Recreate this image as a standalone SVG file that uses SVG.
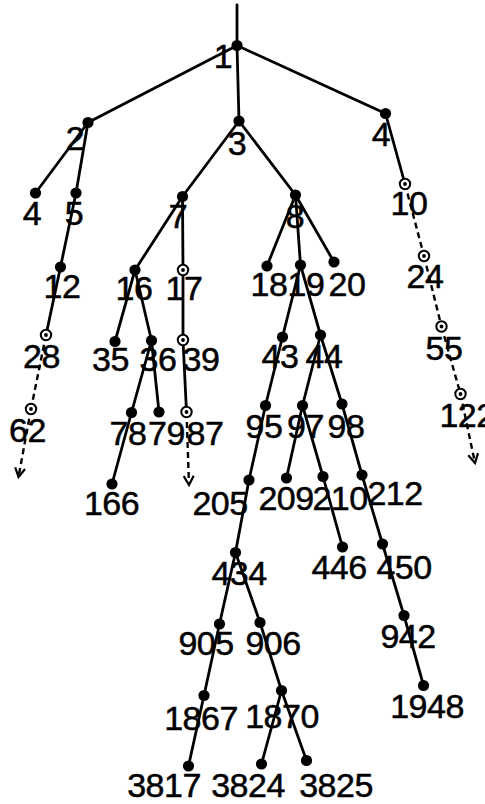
<svg xmlns="http://www.w3.org/2000/svg" width="485" height="804" viewBox="0 0 485 804">
  <style>
    .edge { stroke: #000; stroke-width: 2.8; fill: none; stroke-linecap: round; }
    .dash { stroke: #000; stroke-width: 2.4; fill: none; stroke-dasharray: 6 4; }
    .dot { fill: #000; }
    .ring { fill: #fff; stroke: #000; stroke-width: 2; }
    .core { fill: #000; }
    text { font-family: "Liberation Sans", Arial, Helvetica, sans-serif; font-size: 34px; fill: #000; stroke: #000; stroke-width: 0.5; text-anchor: middle; letter-spacing: -0.5px; }
  </style>
  <defs>
    <marker id="vhead" viewBox="-11 -7 13 14" markerWidth="13" markerHeight="14" refX="0" refY="0" orient="auto" markerUnits="userSpaceOnUse">
      <path d="M -9 -5 L 0 0 L -9 5" fill="none" stroke="#000" stroke-width="2.2"/>
    </marker>
    <circle id="dotShape" r="5.6" class="dot"/>
    <g id="ringShape">
      <circle r="5.2" class="ring"/>
      <circle r="1.9" class="core"/>
    </g>
  </defs>

  <!-- tree edges -->
  <g id="connectors">
    <line class="edge" x1="237" y1="5" x2="237" y2="45.5"/>
    <line class="edge" x1="237" y1="45.5" x2="88" y2="122.5"/>
    <line class="edge" x1="237" y1="45.5" x2="239" y2="121"/>
    <line class="edge" x1="237" y1="45.5" x2="385.5" y2="113.5"/>
    <line class="edge" x1="88" y1="122.5" x2="35.5" y2="193"/>
    <line class="edge" x1="88" y1="122.5" x2="76" y2="193"/>
    <line class="edge" x1="76" y1="193" x2="60.5" y2="267"/>
    <line class="edge" x1="60.5" y1="267" x2="46" y2="335"/>
    <line class="dash" x1="46" y1="335" x2="31" y2="409"/>
    <line class="dash" x1="31" y1="409" x2="18.5" y2="477" marker-end="url(#vhead)"/>
    <line class="edge" x1="239" y1="121" x2="182.5" y2="196.5"/>
    <line class="edge" x1="239" y1="121" x2="295.5" y2="195"/>
    <line class="edge" x1="182.5" y1="196.5" x2="135" y2="270"/>
    <line class="edge" x1="182.5" y1="196.5" x2="183" y2="270"/>
    <line class="edge" x1="135" y1="270" x2="115" y2="341.5"/>
    <line class="edge" x1="135" y1="270" x2="151.5" y2="340.5"/>
    <line class="edge" x1="183" y1="270" x2="183" y2="340"/>
    <line class="edge" x1="183" y1="340" x2="186.5" y2="412"/>
    <line class="dash" x1="186.5" y1="412" x2="189" y2="485" marker-end="url(#vhead)"/>
    <line class="edge" x1="151.5" y1="340.5" x2="131.5" y2="412.5"/>
    <line class="edge" x1="151.5" y1="340.5" x2="159" y2="412"/>
    <line class="edge" x1="131.5" y1="412.5" x2="112" y2="484"/>
    <line class="edge" x1="295.5" y1="195" x2="267" y2="266"/>
    <line class="edge" x1="295.5" y1="195" x2="300.5" y2="265"/>
    <line class="edge" x1="295.5" y1="195" x2="334" y2="262"/>
    <line class="edge" x1="300.5" y1="265" x2="282.5" y2="337"/>
    <line class="edge" x1="300.5" y1="265" x2="320.5" y2="335"/>
    <line class="edge" x1="282.5" y1="337" x2="265.5" y2="405.5"/>
    <line class="edge" x1="320.5" y1="335" x2="302.5" y2="405.5"/>
    <line class="edge" x1="320.5" y1="335" x2="342" y2="404"/>
    <line class="edge" x1="265.5" y1="405.5" x2="249" y2="480"/>
    <line class="edge" x1="249" y1="480" x2="235.5" y2="552.5"/>
    <line class="edge" x1="302.5" y1="405.5" x2="286.5" y2="478"/>
    <line class="edge" x1="302.5" y1="405.5" x2="323" y2="476.5"/>
    <line class="edge" x1="323" y1="476.5" x2="342.5" y2="547"/>
    <line class="edge" x1="342" y1="404" x2="362" y2="475"/>
    <line class="edge" x1="362" y1="475" x2="382.5" y2="544"/>
    <line class="edge" x1="382.5" y1="544" x2="404" y2="615.5"/>
    <line class="edge" x1="404" y1="615.5" x2="423.5" y2="685.5"/>
    <line class="edge" x1="235.5" y1="552.5" x2="219.5" y2="624"/>
    <line class="edge" x1="235.5" y1="552.5" x2="260" y2="622.5"/>
    <line class="edge" x1="219.5" y1="624" x2="204" y2="695.5"/>
    <line class="edge" x1="204" y1="695.5" x2="188.5" y2="766"/>
    <line class="edge" x1="260" y1="622.5" x2="281.5" y2="690.5"/>
    <line class="edge" x1="281.5" y1="690.5" x2="261.5" y2="764"/>
    <line class="edge" x1="281.5" y1="690.5" x2="306.5" y2="760.5"/>
    <line class="edge" x1="385.5" y1="113.5" x2="405" y2="184"/>
    <line class="dash" x1="405" y1="184" x2="424" y2="256"/>
    <line class="dash" x1="424" y1="256" x2="441.5" y2="326.5"/>
    <line class="dash" x1="441.5" y1="326.5" x2="460.5" y2="394"/>
    <line class="dash" x1="460.5" y1="394" x2="475" y2="463" marker-end="url(#vhead)"/>
  </g>

  <!-- nodes -->
  <g id="n1"><use href="#dotShape" x="237" y="45.5"/><text x="223" y="68">1</text></g>
  <g id="n2"><use href="#dotShape" x="88" y="122.5"/><text x="75" y="150">2</text></g>
  <g id="n3"><use href="#dotShape" x="239" y="121"/><text x="237" y="155">3</text></g>
  <g id="n4"><use href="#dotShape" x="385.5" y="113.5"/><text x="381" y="146">4</text></g>
  <g id="n4b"><use href="#dotShape" x="35.5" y="193"/><text x="32" y="225">4</text></g>
  <g id="n5"><use href="#dotShape" x="76" y="193"/><text x="74" y="225">5</text></g>
  <g id="n7"><use href="#dotShape" x="182.5" y="196.5"/><text x="178" y="228">7</text></g>
  <g id="n8"><use href="#dotShape" x="295.5" y="195"/><text x="295" y="228">8</text></g>
  <g id="n10"><use href="#ringShape" x="405" y="184"/><text x="409" y="215">10</text></g>
  <g id="n12"><use href="#dotShape" x="60.5" y="267"/><text x="62" y="298">12</text></g>
  <g id="n16"><use href="#dotShape" x="135" y="270"/><text x="134" y="300">16</text></g>
  <g id="n17"><use href="#ringShape" x="183" y="270"/><text x="184" y="300">17</text></g>
  <g id="n18"><use href="#dotShape" x="267" y="266"/><text x="269" y="296">18</text></g>
  <g id="n19"><use href="#dotShape" x="300.5" y="265"/><text x="306" y="296">19</text></g>
  <g id="n20"><use href="#dotShape" x="334" y="262"/><text x="347" y="296">20</text></g>
  <g id="n24"><use href="#ringShape" x="424" y="256"/><text x="425" y="288">24</text></g>
  <g id="n28"><use href="#ringShape" x="46" y="335"/><text x="41.5" y="368">28</text></g>
  <g id="n35"><use href="#dotShape" x="115" y="341.5"/><text x="110.5" y="371">35</text></g>
  <g id="n36"><use href="#dotShape" x="151.5" y="340.5"/><text x="158" y="371">36</text></g>
  <g id="n39"><use href="#ringShape" x="183" y="340"/><text x="201" y="371">39</text></g>
  <g id="n43"><use href="#dotShape" x="282.5" y="337"/><text x="280" y="368">43</text></g>
  <g id="n44"><use href="#dotShape" x="320.5" y="335"/><text x="324" y="368">44</text></g>
  <g id="n55"><use href="#ringShape" x="441.5" y="326.5"/><text x="444" y="360">55</text></g>
  <g id="n62"><use href="#ringShape" x="31" y="409"/><text x="27.5" y="442">62</text></g>
  <g id="n78"><use href="#dotShape" x="131.5" y="412.5"/><text x="128" y="445">78</text></g>
  <g id="n79"><use href="#dotShape" x="159" y="412"/><text x="166.5" y="445">79</text></g>
  <g id="n87"><use href="#ringShape" x="186.5" y="412"/><text x="205" y="445">87</text></g>
  <g id="n95"><use href="#dotShape" x="265.5" y="405.5"/><text x="264" y="438">95</text></g>
  <g id="n97"><use href="#dotShape" x="302.5" y="405.5"/><text x="305.5" y="438">97</text></g>
  <g id="n98"><use href="#dotShape" x="342" y="404"/><text x="346" y="438">98</text></g>
  <g id="n122"><use href="#ringShape" x="460.5" y="394"/><text x="467" y="427">122</text></g>
  <g id="n166"><use href="#dotShape" x="112" y="484"/><text x="111.5" y="515">166</text></g>
  <g id="n205"><use href="#dotShape" x="249" y="480"/><text x="220" y="515">205</text></g>
  <g id="n209"><use href="#dotShape" x="286.5" y="478"/><text x="286" y="510">209</text></g>
  <g id="n210"><use href="#dotShape" x="323" y="476.5"/><text x="340" y="510">210</text></g>
  <g id="n212"><use href="#dotShape" x="362" y="475"/><text x="395" y="505">212</text></g>
  <g id="n434"><use href="#dotShape" x="235.5" y="552.5"/><text x="239" y="585">434</text></g>
  <g id="n446"><use href="#dotShape" x="342.5" y="547"/><text x="339" y="579">446</text></g>
  <g id="n450"><use href="#dotShape" x="382.5" y="544"/><text x="404" y="579">450</text></g>
  <g id="n905"><use href="#dotShape" x="219.5" y="624"/><text x="206" y="655">905</text></g>
  <g id="n906"><use href="#dotShape" x="260" y="622.5"/><text x="273" y="655">906</text></g>
  <g id="n942"><use href="#dotShape" x="404" y="615.5"/><text x="408" y="648">942</text></g>
  <g id="n1867"><use href="#dotShape" x="204" y="695.5"/><text x="201" y="730">1867</text></g>
  <g id="n1870"><use href="#dotShape" x="281.5" y="690.5"/><text x="282" y="728">1870</text></g>
  <g id="n1948"><use href="#dotShape" x="423.5" y="685.5"/><text x="427" y="718">1948</text></g>
  <g id="n3817"><use href="#dotShape" x="188.5" y="766"/><text x="164" y="797">3817</text></g>
  <g id="n3824"><use href="#dotShape" x="261.5" y="764"/><text x="248" y="797">3824</text></g>
  <g id="n3825"><use href="#dotShape" x="306.5" y="760.5"/><text x="336" y="797">3825</text></g>
</svg>
